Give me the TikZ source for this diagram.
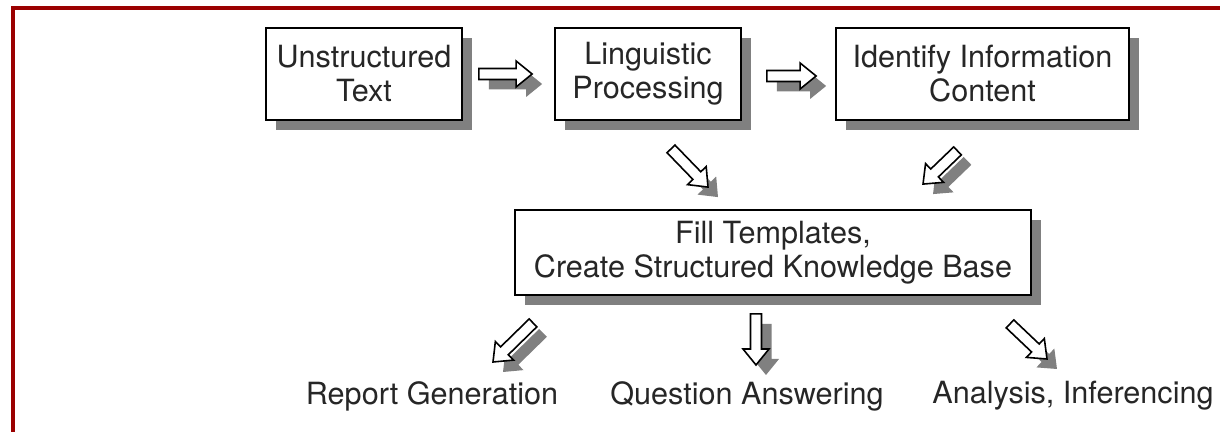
\documentclass[tikz,border=0pt]{standalone}
\usepackage{fontspec}
\setmainfont{TeX Gyre Heros}
\usetikzlibrary{calc,shadows}
\definecolor{framered}{RGB}{155,0,0}
\newcommand{\flowarrow}[2]{%
  \fill[arrowshade] let \p1=(#1), \p2=(#2), \n1={atan2(\y2-\y1,\x2-\x1)},
      \n2={veclen(\x2-\x1,\y2-\y1)} in [shift={(\x1+5pt,\y1-5pt)}, rotate=\n1]
    (0pt,-2.75pt) -- (\n2-8pt,-2.75pt) -- (\n2-8pt,-6.5pt) -- (\n2+0pt,0pt)
    -- (\n2-8pt,6.5pt) -- (\n2-8pt,2.75pt) -- (0pt,2.75pt) -- cycle;
  \filldraw[arrowbody] let \p1=(#1), \p2=(#2), \n1={atan2(\y2-\y1,\x2-\x1)},
      \n2={veclen(\x2-\x1,\y2-\y1)} in [shift={(\x1,\y1)}, rotate=\n1]
    (0pt,-2.75pt) -- (\n2-8pt,-2.75pt) -- (\n2-8pt,-6.5pt) -- (\n2+0pt,0pt)
    -- (\n2-8pt,6.5pt) -- (\n2-8pt,2.75pt) -- (0pt,2.75pt) -- cycle;}

\begin{document}
\begin{tikzpicture}[x=0.5pt, y=-0.5pt,
    stage/.style={draw=black, line width=0.9pt, fill=white, align=center,
      text=black!85, font=\fontsize{15.3}{17}\selectfont, inner sep=0pt,
      drop shadow={shadow xshift=5pt, shadow yshift=-5pt, fill=black!50, opacity=1}},
    outcome/.style={text=black!85, font=\fontsize{15.3}{17}\selectfont},
    arrowbody/.style={draw=black, line width=0.8pt, fill=white, line join=miter},
    arrowshade/.style={fill=black!50}]
  \useasboundingbox[fill=white] (0,0) rectangle (1220,432);
  \clip (0,0) rectangle (1220,432);
  \draw[framered, line width=1.8pt] (1240,8) -| (13,450);

  \node[stage, minimum width=98pt, minimum height=46pt] (ut) at (364,74) {Unstructured\\Text};
  \node[stage, minimum width=93pt, minimum height=46pt] (lp) at (648,74) {Linguistic\\Processing};
  \node[stage, minimum width=146.5pt, minimum height=46pt] (ic) at (982.5,74) {Identify Information\\Content};
  \node[stage, minimum width=258pt, minimum height=42.5pt] (kb) at (773,252.5)
    {Fill Templates,\\Create Structured Knowledge Base};

  \node[outcome] (rg) at (432,396) {Report Generation};
  \node[outcome] (qa) at (747,396) {Question Answering};
  \node[outcome] (ai) at (1073,396) {Analysis, Inferencing};

  \flowarrow{$(ut.east)+(16,0)$}{$(lp.west)+(-22,0)$}
  \flowarrow{$(lp.east)+(25,2)$}{$(ic.west)+(-19,2)$}
  \flowarrow{$(lp.south)+(23,28)$}{$(kb.north)+(-65,-22)$}
  \flowarrow{$(ic.south)+(-25,30)$}{$(kb.north)+(150,-25)$}
  \flowarrow{$(kb.south)+(-240,27)$}{$(rg.center)+(61,-34)$}
  \flowarrow{$(kb.south)+(-17,18)$}{$(qa.center)+(9,-31)$}
  \flowarrow{$(kb.south)+(237,28)$}{$(ai.center)+(-26,-37)$}
\end{tikzpicture}
\end{document}
